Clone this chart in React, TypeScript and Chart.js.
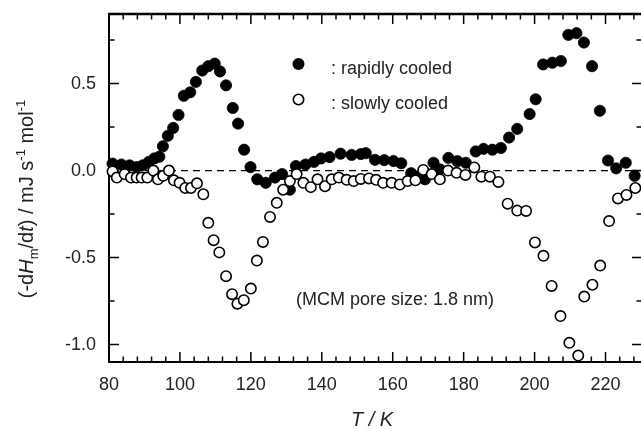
import React, { useEffect, useRef } from 'react';
import { Chart, registerables } from 'chart.js';

Chart.register(...registerables);

// Rapidly cooled (filled circles): temperature (K) and -dH/dt (mJ s^-1 mol^-1)
const rapidT = [81.0, 83.5, 85.8, 87.8, 89.5, 91.2, 92.8, 94.2, 95.2, 96.6, 98.1, 99.6, 101.1, 102.9, 104.5, 106.3, 108.0, 109.8, 111.3, 113.0, 114.9, 116.4, 118.1, 119.9, 121.8, 124.2, 126.8, 128.8, 131.0, 132.7, 135.4, 137.8, 139.8, 142.2, 145.3, 148.4, 151.0, 152.4, 155.0, 157.6, 160.2, 162.4, 165.2, 167.6, 169.1, 171.5, 173.3, 175.7, 178.2, 180.6, 183.4, 185.6, 188.1, 190.5, 192.8, 195.1, 198.6, 200.3, 202.4, 205.0, 207.4, 209.5, 211.8, 213.9, 216.2, 218.4, 220.7, 223.0, 225.7, 228.2];
const rapidV = [0.04, 0.035, 0.03, 0.02, 0.03, 0.05, 0.07, 0.08, 0.14, 0.2, 0.245, 0.32, 0.43, 0.45, 0.51, 0.575, 0.6, 0.615, 0.57, 0.49, 0.36, 0.27, 0.12, 0.02, -0.05, -0.07, -0.04, -0.02, -0.11, 0.026, 0.035, 0.05, 0.07, 0.078, 0.097, 0.09, 0.095, 0.1, 0.062, 0.06, 0.055, 0.042, -0.015, -0.03, -0.05, 0.045, 0.007, 0.073, 0.054, 0.045, 0.11, 0.125, 0.12, 0.13, 0.19, 0.24, 0.325, 0.41, 0.61, 0.62, 0.63, 0.78, 0.79, 0.736, 0.6, 0.344, 0.058, 0.013, 0.045, -0.03];

// Slowly cooled (open circles)
const slowT = [81.0, 82.2, 84.4, 86.2, 87.8, 89.2, 90.8, 92.5, 93.8, 95.3, 96.9, 98.3, 99.9, 101.5, 103.1, 104.8, 106.6, 108.0, 109.5, 111.1, 113.0, 114.7, 116.2, 118.0, 120.0, 121.7, 123.4, 125.4, 127.3, 129.1, 131.0, 132.9, 134.8, 136.9, 138.8, 140.9, 142.8, 144.8, 147.0, 149.0, 151.0, 153.3, 155.3, 157.3, 159.7, 162.0, 164.2, 166.4, 168.6, 171.0, 173.3, 175.6, 178.0, 180.5, 183.0, 185.0, 187.4, 189.8, 192.4, 195.1, 197.6, 200.1, 202.5, 204.8, 207.3, 209.8, 212.3, 214.0, 216.3, 218.5, 221.0, 223.5, 225.9, 228.4];
const slowV = [-0.005, -0.04, -0.02, -0.04, -0.04, -0.04, -0.04, 0.0, -0.05, -0.03, 0.0, -0.056, -0.07, -0.1, -0.1, -0.073, -0.136, -0.3, -0.4, -0.47, -0.607, -0.71, -0.765, -0.745, -0.678, -0.517, -0.41, -0.266, -0.185, -0.11, -0.06, -0.02, -0.07, -0.095, -0.05, -0.09, -0.05, -0.04, -0.053, -0.06, -0.048, -0.045, -0.053, -0.07, -0.07, -0.08, -0.06, -0.056, 0.004, -0.02, -0.05, 0.0, -0.013, -0.025, 0.018, -0.035, -0.035, -0.065, -0.19, -0.23, -0.232, -0.413, -0.49, -0.663, -0.836, -0.99, -1.063, -0.724, -0.656, -0.546, -0.29, -0.16, -0.14, -0.1];

const xTicks = [80, 100, 120, 140, 160, 180, 200, 220];
const yTicks = [-1.0, -0.5, 0.0, 0.5];
const X_MIN = 80;
const X_MAX = 230;
const Y_MIN = -1.1;
const Y_MAX = 0.9;

const FONT = '"Liberation Sans", Arial, Helvetica, sans-serif';
const TEXT = '#222';

const framePlugin = {
  id: 'frame',
  beforeDatasetsDraw(chart: any) {
    const { ctx, chartArea, scales } = chart;
    const { left, right, top, bottom } = chartArea;
    const x = scales.x;
    const y = scales.y;
    ctx.save();
    ctx.strokeStyle = '#000';
    ctx.lineWidth = 1.5;
    ctx.beginPath();
    for (let v = X_MIN; v <= X_MAX; v += 4) {
      const px = x.getPixelForValue(v);
      const len = v % 20 === 0 ? 10 : 5.5;
      ctx.moveTo(px, bottom);
      ctx.lineTo(px, bottom - len);
      ctx.moveTo(px, top);
      ctx.lineTo(px, top + len);
    }
    for (let k = -4; k <= 3; k++) {
      const py = y.getPixelForValue(k * 0.25);
      const len = k % 2 === 0 ? 10 : 5.5;
      ctx.moveTo(left, py);
      ctx.lineTo(left + len, py);
      ctx.moveTo(right + 1, py);
      ctx.lineTo(right + 1 - len, py);
    }
    ctx.stroke();
    ctx.lineWidth = 2;
    ctx.beginPath();
    ctx.moveTo(right, bottom);
    ctx.lineTo(left, bottom);
    ctx.lineTo(left, top);
    ctx.stroke();
    ctx.lineWidth = 2.5;
    ctx.beginPath();
    ctx.moveTo(left - 1, top);
    ctx.lineTo(right, top);
    ctx.stroke();
    ctx.restore();
  },
};

const textPlugin = {
  id: 'texts',
  afterDraw(chart: any) {
    const { ctx } = chart;
    ctx.save();
    ctx.fillStyle = TEXT;
    ctx.textBaseline = 'alphabetic';
    ctx.textAlign = 'left';

    // Legend
    ctx.fillStyle = '#000';
    ctx.beginPath();
    ctx.arc(298.5, 64, 6, 0, Math.PI * 2);
    ctx.fill();
    ctx.strokeStyle = '#000';
    ctx.lineWidth = 1.6;
    ctx.beginPath();
    ctx.arc(298.5, 99.5, 5.2, 0, Math.PI * 2);
    ctx.fillStyle = '#fff';
    ctx.fill();
    ctx.stroke();
    ctx.fillStyle = TEXT;
    ctx.font = `18px ${FONT}`;
    ctx.fillText(': rapidly cooled', 331, 74);
    ctx.fillText(': slowly cooled', 331, 108.5);

    // Annotation
    ctx.fillText('(MCM pore size: 1.8 nm)', 296, 305);

    // X title
    ctx.font = `italic 20px ${FONT}`;
    ctx.textAlign = 'center';
    ctx.fillText('T / K', 372, 426);

    // Y title with sub/superscripts
    const segs = [
      { t: '(-d', it: false, s: 20, dy: 0 },
      { t: 'H', it: true, s: 20, dy: 0 },
      { t: 'm', it: false, s: 13, dy: 5 },
      { t: '/d', it: false, s: 20, dy: 0 },
      { t: 't', it: true, s: 20, dy: 0 },
      { t: ') / mJ s', it: false, s: 20, dy: 0 },
      { t: '-1', it: false, s: 13, dy: -8 },
      { t: ' mol', it: false, s: 20, dy: 0 },
      { t: '-1', it: false, s: 13, dy: -8 },
    ];
    ctx.textAlign = 'left';
    let total = 0;
    const widths: number[] = [];
    for (const sg of segs) {
      ctx.font = `${sg.it ? 'italic ' : ''}${sg.s}px ${FONT}`;
      const w = ctx.measureText(sg.t).width;
      widths.push(w);
      total += w;
    }
    ctx.translate(33, 199);
    ctx.rotate(-Math.PI / 2);
    let cx = -total / 2;
    segs.forEach((sg, i) => {
      ctx.font = `${sg.it ? 'italic ' : ''}${sg.s}px ${FONT}`;
      ctx.fillText(sg.t, cx, sg.dy);
      cx += widths[i];
    });
    ctx.restore();
  },
};

const zeroPad = (s: any) => {
  s.paddingLeft = 0;
  s.paddingRight = 0;
  s.paddingTop = 0;
  s.paddingBottom = 0;
};

export default function App() {
  const ref = useRef<HTMLCanvasElement | null>(null);

  useEffect(() => {
    if (!ref.current) return;
    const chart = new Chart(ref.current, {
      type: 'scatter',
      data: {
        datasets: [
          {
            label: 'slowly cooled',
            data: slowT.map((t, i) => ({ x: t, y: slowV[i] })),
            pointRadius: 5.2,
            pointBorderWidth: 1.6,
            pointBackgroundColor: '#fff',
            pointBorderColor: '#000',
            showLine: false,
            clip: false,
          } as any,
          {
            label: 'rapidly cooled',
            data: rapidT.map((t, i) => ({ x: t, y: rapidV[i] })),
            pointRadius: 5.6,
            pointBorderWidth: 0.8,
            pointBackgroundColor: '#000',
            pointBorderColor: '#000',
            showLine: false,
            clip: false,
          } as any,
          {
            label: 'zero',
            data: [
              { x: X_MIN, y: 0 },
              { x: X_MAX, y: 0 },
            ],
            showLine: true,
            borderColor: '#000',
            borderWidth: 1.2,
            borderDash: [7, 5],
            pointRadius: 0,
          } as any,
        ],
      },
      options: {
        responsive: false,
        animation: false,
        devicePixelRatio: 1,
        events: [],
        layout: { autoPadding: false, padding: { top: 14, right: 0, left: 0, bottom: 0 } },
        plugins: { legend: { display: false }, tooltip: { enabled: false } },
        scales: {
          x: {
            type: 'linear',
            min: X_MIN,
            max: X_MAX,
            grid: { display: false, drawTicks: false },
            border: { display: false },
            afterFit: (s: any) => {
              s.height = 67;
              zeroPad(s);
            },
            afterBuildTicks: (s: any) => {
              s.ticks = xTicks.map((v) => ({ value: v }));
            },
            ticks: {
              font: { family: FONT, size: 18 },
              color: TEXT,
              padding: 12,
              maxRotation: 0,
              autoSkip: false,
              callback: (v: any) => String(v),
            },
          },
          y: {
            type: 'linear',
            min: Y_MIN,
            max: Y_MAX,
            grid: { display: false, drawTicks: false },
            border: { display: false },
            afterFit: (s: any) => {
              s.width = 109;
              zeroPad(s);
            },
            afterBuildTicks: (s: any) => {
              s.ticks = yTicks.map((v) => ({ value: v }));
            },
            ticks: {
              font: { family: FONT, size: 18 },
              color: TEXT,
              padding: 13,
              autoSkip: false,
              callback: (v: any) => Number(v).toFixed(1),
            },
          },
        },
      } as any,
      plugins: [framePlugin, textPlugin],
    });
    return () => chart.destroy();
  }, []);

  return (
    <div style={{ position: 'absolute', left: 0, top: 0, width: 641, height: 429, background: '#fff' }}>
      <canvas ref={ref} width={641} height={429} style={{ display: 'block' }} />
    </div>
  );
}
